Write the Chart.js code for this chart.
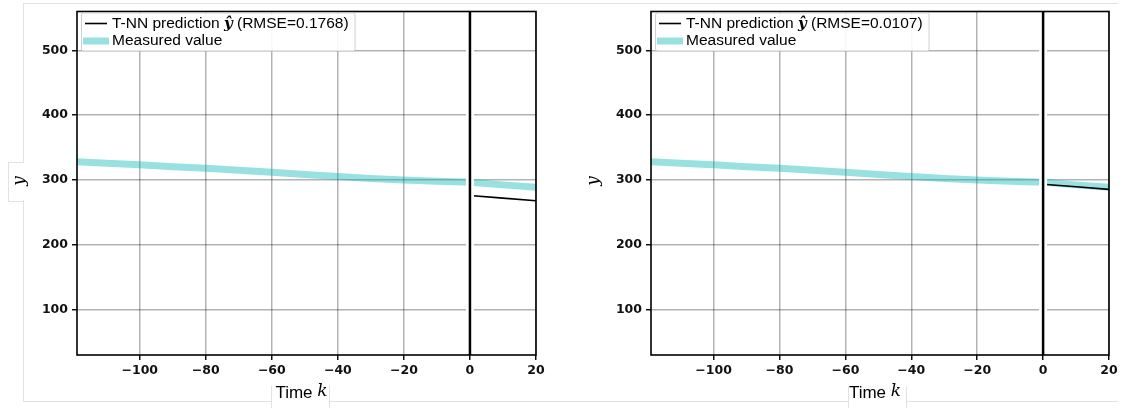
<!DOCTYPE html>
<html>
<head>
<meta charset="utf-8">
<script src="https://cdn.jsdelivr.net/npm/chart.js@4.4.1/dist/chart.umd.min.js"></script>
<style>
  body { margin: 0; background: #fff; }
  #wrap { position: relative; width: 1125px; height: 408px; overflow: hidden; }
  .fr { position: absolute; border-color: #e2e2e2; border-style: solid; border-width: 0; background: transparent; }
  canvas { position: absolute; top: 0; }
</style>
</head>
<body>
<div id="wrap">
  <!-- faint figure frames from the original screenshot -->
  <div class="fr" style="left:23px;top:3px;width:1095px;height:397px;border-top-width:1px;border-bottom-width:1px;"></div>
  <div class="fr" style="left:23px;top:3px;width:0;height:159px;border-left-width:1px;"></div>
  <div class="fr" style="left:8px;top:162px;width:15px;height:38px;border-left-width:1px;border-top-width:1px;border-bottom-width:1px;"></div>
  <div class="fr" style="left:23px;top:200px;width:0;height:201px;border-left-width:1px;"></div>
  <div class="fr" style="left:271px;top:386px;width:57px;height:30px;border-left-width:1px;border-right-width:1px;background:#fff;"></div>
  <div class="fr" style="left:848px;top:386px;width:57px;height:30px;border-left-width:1px;border-right-width:1px;background:#fff;"></div>
  <canvas id="left" width="560" height="408" style="left:0"></canvas>
  <canvas id="right" width="565" height="408" style="left:560px"></canvas>
</div>
<script>
// tick labels
const xTicks = [-100, -80, -60, -40, -20, 0, 20];
const yTicks = [100, 200, 300, 400, 500];

// measured value (same in both panels)
const measuredK = [-119, -110, -100, -90, -80, -70, -60, -50, -40, -30, -20, -10, 0, 10, 20];
const measuredY = [328, 326, 323.5, 320.5, 318, 315, 312, 308.5, 305.5, 302.5, 300, 298, 296.5, 292.5, 289];

// T-NN prediction after k = 0
const predK = [0, 10, 20];
const predLeft = [276, 272, 268];
const predRight = [293.5, 289.5, 285.5];

const rmseLeft = '0.1768';
const rmseRight = '0.0107';

const CYAN = 'rgba(0, 180, 180, 0.4)';
const TXT = '"Liberation Sans", Arial, sans-serif';
const GRID = 'rgba(0,0,0,0.3)';

function pts(xs, ys) {
  return xs.map((x, i) => ({ x: x, y: ys[i] }));
}

function minusFmt(v) {
  return v < 0 ? '\u2212' + Math.abs(v) : String(v);
}

const panelPlugin = {
  id: 'panel',
  afterDatasetsDraw(chart) {
    const ctx = chart.ctx, a = chart.chartArea;
    const x0 = chart.scales.x.getPixelForValue(0);
    ctx.save();
    // white halo + black vertical line at k = 0
    ctx.fillStyle = '#fff';
    ctx.fillRect(x0 - 4, a.top, 8, a.bottom - a.top);
    ctx.strokeStyle = '#000';
    ctx.lineWidth = 2.5;
    ctx.beginPath();
    ctx.moveTo(x0, a.top);
    ctx.lineTo(x0, a.bottom);
    ctx.stroke();
    ctx.restore();
  },
  afterDraw(chart, args, opts) {
    const ctx = chart.ctx, a = chart.chartArea;
    ctx.save();
    // axes frame
    ctx.strokeStyle = '#000';
    ctx.lineWidth = 1.6;
    ctx.strokeRect(a.left, a.top, a.right - a.left, a.bottom - a.top);

    // legend
    const lx = a.left + 4, ly = a.top + 1;
    const p1 = 'T-NN prediction ', p3 = ' (RMSE=' + opts.rmse + ')';
    const f1 = '15.5px ' + TXT, fy = 'italic bold 15px "DejaVu Serif", serif';
    ctx.font = f1;
    const w1 = ctx.measureText(p1).width, w3 = ctx.measureText(p3).width;
    ctx.font = fy;
    const wy = ctx.measureText('\u0177').width;
    const bw = 31 + w1 + wy + w3 + 6;
    ctx.fillStyle = 'rgba(255,255,255,0.9)';
    ctx.strokeStyle = '#cfcfcf';
    ctx.lineWidth = 1;
    ctx.beginPath();
    ctx.roundRect(lx + 0.5, ly + 0.5, bw, 38, 2);
    ctx.fill();
    ctx.stroke();

    const r1 = ly + 11, r2 = ly + 28.5;
    ctx.strokeStyle = '#000';
    ctx.lineWidth = 1.6;
    ctx.beginPath();
    ctx.moveTo(lx + 4, r1);
    ctx.lineTo(lx + 26, r1);
    ctx.stroke();
    ctx.strokeStyle = CYAN;
    ctx.lineWidth = 7;
    ctx.beginPath();
    ctx.moveTo(lx + 2, r2);
    ctx.lineTo(lx + 28, r2);
    ctx.stroke();

    ctx.fillStyle = '#000';
    ctx.textBaseline = 'middle';
    ctx.textAlign = 'left';
    let tx = lx + 31;
    ctx.font = f1;
    ctx.fillText(p1, tx, r1);
    tx += w1;
    ctx.font = fy;
    ctx.fillText('\u0177', tx, r1 + 1);
    tx += wy;
    ctx.font = f1;
    ctx.fillText(p3, tx, r1);
    ctx.fillText('Measured value', lx + 31, r2);

    // x axis title "Time k"
    const cx = (a.left + a.right) / 2 - 5;
    const fT = '17px ' + TXT, fk = 'italic 17px "DejaVu Serif", serif';
    ctx.font = fT;
    const wt = ctx.measureText('Time ').width;
    ctx.font = fk;
    const wk = ctx.measureText('k').width;
    let sx = cx - (wt + wk) / 2;
    ctx.font = fT;
    ctx.fillText('Time ', sx, 393);
    ctx.font = fk;
    ctx.fillText('k', sx + wt, 392);

    // y axis title
    ctx.translate(a.left - 57, 181);
    ctx.rotate(-Math.PI / 2);
    ctx.textAlign = 'center';
    ctx.font = 'italic 17px "DejaVu Serif", serif';
    ctx.fillText('y', 0, 0);
    ctx.restore();
  }
};

function makePanel(id, pred, rmse, areaLeft, padRight) {
  return new Chart(document.getElementById(id), {
    type: 'line',
    data: {
      datasets: [{
        label: 'T-NN prediction',
        data: pts(predK, pred),
        borderColor: '#000',
        borderWidth: 1.6,
        pointRadius: 0,
        order: 1
      }, {
        label: 'Measured value',
        data: pts(measuredK, measuredY),
        borderColor: CYAN,
        borderWidth: 7,
        pointRadius: 0,
        order: 2
      }]
    },
    options: {
      responsive: false,
      animation: false,
      layout: { padding: { top: 5, right: padRight, left: 0, bottom: 0 } },
      plugins: {
        legend: { display: false },
        tooltip: { enabled: false },
        panel: { rmse: rmse }
      },
      scales: {
        x: {
          type: 'linear',
          min: -119,
          max: 20,
          afterBuildTicks: s => { s.ticks = xTicks.map(v => ({ value: v })); },
          afterFit: s => { s.height = 53; },
          grid: { color: GRID, lineWidth: 1.5, tickColor: '#000', tickLength: 5, tickWidth: 1.4 },
          border: { display: false },
          ticks: {
            padding: 3,
            maxRotation: 0,
            color: '#111',
            font: { family: '"DejaVu Sans"', size: 12.5, weight: 'bold' },
            callback: v => minusFmt(v)
          }
        },
        y: {
          min: 30,
          max: 560,
          afterBuildTicks: s => { s.ticks = yTicks.map(v => ({ value: v })); },
          afterFit: s => { s.width = areaLeft; },
          grid: { color: GRID, lineWidth: 1.5, tickColor: '#000', tickLength: 5, tickWidth: 1.4 },
          border: { display: false },
          ticks: {
            padding: 4,
            color: '#111',
            font: { family: '"DejaVu Sans"', size: 12.5, weight: 'bold' },
            callback: v => minusFmt(v)
          }
        }
      }
    },
    plugins: [panelPlugin]
  });
}

makePanel('left', predLeft, rmseLeft, 77, 24);
makePanel('right', predRight, rmseRight, 91, 16);
</script>
</body>
</html>
